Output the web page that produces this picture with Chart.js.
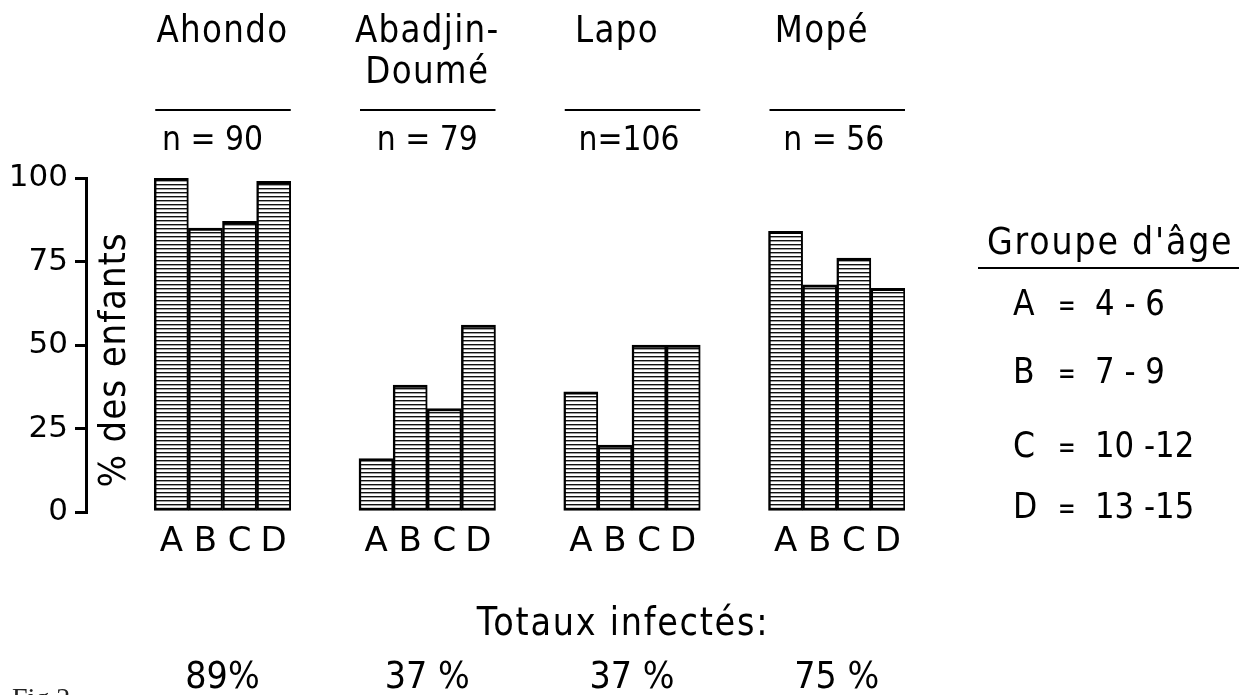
<!DOCTYPE html>
<html>
<head>
<meta charset="utf-8">
<script src="https://cdn.jsdelivr.net/npm/chart.js@4/dist/chart.umd.min.js"></script>
<style>
  html, body { margin: 0; padding: 0; background: #fff; }
  #wrap { position: relative; width: 1239px; height: 695px; }
</style>
</head>
<body>
<div id="wrap"><canvas id="infectChart"></canvas></div>
<script>
// villages, sample sizes and infection rates per age group (% of children)
const villages = ["Ahondo", "Abadjin-\nDoumé", "Lapo", "Mopé"];
const sampleSizes = ["n = 90", "n = 79", "n=106", "n = 56"];
const ageGroups = ["A", "B", "C", "D"];
const ageRanges = ["4 - 6", "7 - 9", "10 -12", "13 -15"];
const ahondo = [100, 85, 87, 99];
const abadjin = [16, 38, 31, 56];
const lapo = [36, 20, 50, 50];
const mope = [84, 68, 76, 67];
const totals = ["89%", "37 %", "37 %", "75 %"];
const yTicks = [0, 25, 50, 75, 100];

const FONT = "'DejaVu Sans', sans-serif";

// two empty slots before every village make the gaps between groups
const labels = [];
const values = [];
[ahondo, abadjin, lapo, mope].forEach(series => {
    labels.push("", "");
    values.push(null, null);
    ageGroups.forEach((a, i) => {
        labels.push(a);
        values.push(series[i]);
    });
});

// horizontal hatching used to fill the bars
const pc = document.createElement("canvas");
pc.width = 8;
pc.height = 4;
const pctx = pc.getContext("2d");
pctx.fillStyle = "#fff";
pctx.fillRect(0, 0, 8, 4);
pctx.fillStyle = "#111";
pctx.fillRect(0, 0, 8, 1.4);
const hatch = pctx.createPattern(pc, "repeat");

// lettering in the figure is tall and narrow, so squeeze it a little
function label(ctx, text, x, y, size, align, sx, spacing) {
    ctx.save();
    ctx.translate(x, y);
    ctx.scale(sx, 1);
    ctx.font = size + "px " + FONT;
    ctx.letterSpacing = (spacing || 0) + "px";
    ctx.textAlign = align;
    ctx.fillText(text, 0, 0);
    ctx.restore();
}

// headers, y title, legend and totals
const annotations = {
    id: "annotations",
    afterDraw(chart) {
        const { ctx, scales: { x } } = chart;
        const slot = x.width / labels.length;
        const nameShift = [0, 0, -15, -15];
        const nShift = [-10, 0, -3, -3];
        ctx.save();
        ctx.fillStyle = "#000";
        ctx.strokeStyle = "#000";
        ctx.textBaseline = "alphabetic";

        villages.forEach((name, g) => {
            const first = g * 6 + 2;
            const left = x.getPixelForValue(first) - slot / 2;
            const right = x.getPixelForValue(first + 3) + slot / 2;
            const mid = (left + right) / 2;

            name.split("\n").forEach((line, k) => {
                label(ctx, line, mid + nameShift[g], 42 + k * 41, 37, "center", 0.88, 1.5);
            });

            ctx.lineWidth = 2;
            ctx.beginPath();
            ctx.moveTo(left + 1, 110);
            ctx.lineTo(right, 110);
            ctx.stroke();

            label(ctx, sampleSizes[g], mid + nShift[g], 150, 34, "center", 0.88, 0);
            label(ctx, totals[g], mid, 688, 38, "center", 0.88, 0);
        });

        // y title sits between the axis and the first bars
        ctx.save();
        ctx.translate(125, 360);
        ctx.rotate(-Math.PI / 2);
        label(ctx, "% des enfants", 0, 0, 38, "center", 0.9, 1);
        ctx.restore();

        // age group key
        label(ctx, "Groupe d'âge", 987, 254, 37, "left", 0.9, 2);
        ctx.lineWidth = 2;
        ctx.beginPath();
        ctx.moveTo(978, 268);
        ctx.lineTo(1239, 268);
        ctx.stroke();
        const rows = [315, 383, 457, 518];
        ageGroups.forEach((a, i) => {
            label(ctx, a, 1013, rows[i], 35, "left", 0.9, 0);
            label(ctx, "=", 1058, rows[i], 30, "left", 0.7, 0);
            label(ctx, ageRanges[i], 1095, rows[i], 35, "left", 0.88, 0);
        });

        label(ctx, "Totaux infectés:", 623, 635, 39, "center", 0.86, 2);

        ctx.fillStyle = "#222";
        ctx.font = "28px 'Liberation Serif', serif";
        ctx.textAlign = "left";
        ctx.fillText("Fig.2", 12, 707);
        ctx.restore();
    }
};

new Chart(document.getElementById("infectChart").getContext("2d"), {
    type: "bar",
    data: {
        labels: labels,
        datasets: [{
            data: values,
            backgroundColor: hatch,
            borderColor: "#000",
            borderWidth: { top: 3, bottom: 3, left: 2.5, right: 2 },
            borderSkipped: false,
            barPercentage: 1,
            categoryPercentage: 1
        }]
    },
    options: {
        responsive: true,
        maintainAspectRatio: false,
        animation: false,
        layout: { padding: { top: 178, right: 334, bottom: 143, left: 0 } },
        plugins: {
            legend: { display: false },
            tooltip: { enabled: false }
        },
        scales: {
            x: {
                grid: { display: false },
                border: { display: false },
                ticks: {
                    color: "#000",
                    font: { family: FONT, size: 34 },
                    padding: 2,
                    maxRotation: 0,
                    autoSkip: false
                },
                afterFit(scale) { scale.height = 40; }
            },
            y: {
                min: 0,
                max: 100,
                afterBuildTicks(scale) {
                    scale.ticks = yTicks.map(v => ({ value: v }));
                },
                grid: {
                    drawOnChartArea: false,
                    color: "#000",
                    lineWidth: 3,
                    tickLength: 11
                },
                border: { display: true, color: "#000", width: 3 },
                ticks: {
                    color: "#000",
                    font: { family: FONT, size: 31 },
                    padding: 7
                },
                afterFit(scale) { scale.width = 86; }
            }
        }
    },
    plugins: [annotations]
});
</script>
</body>
</html>
